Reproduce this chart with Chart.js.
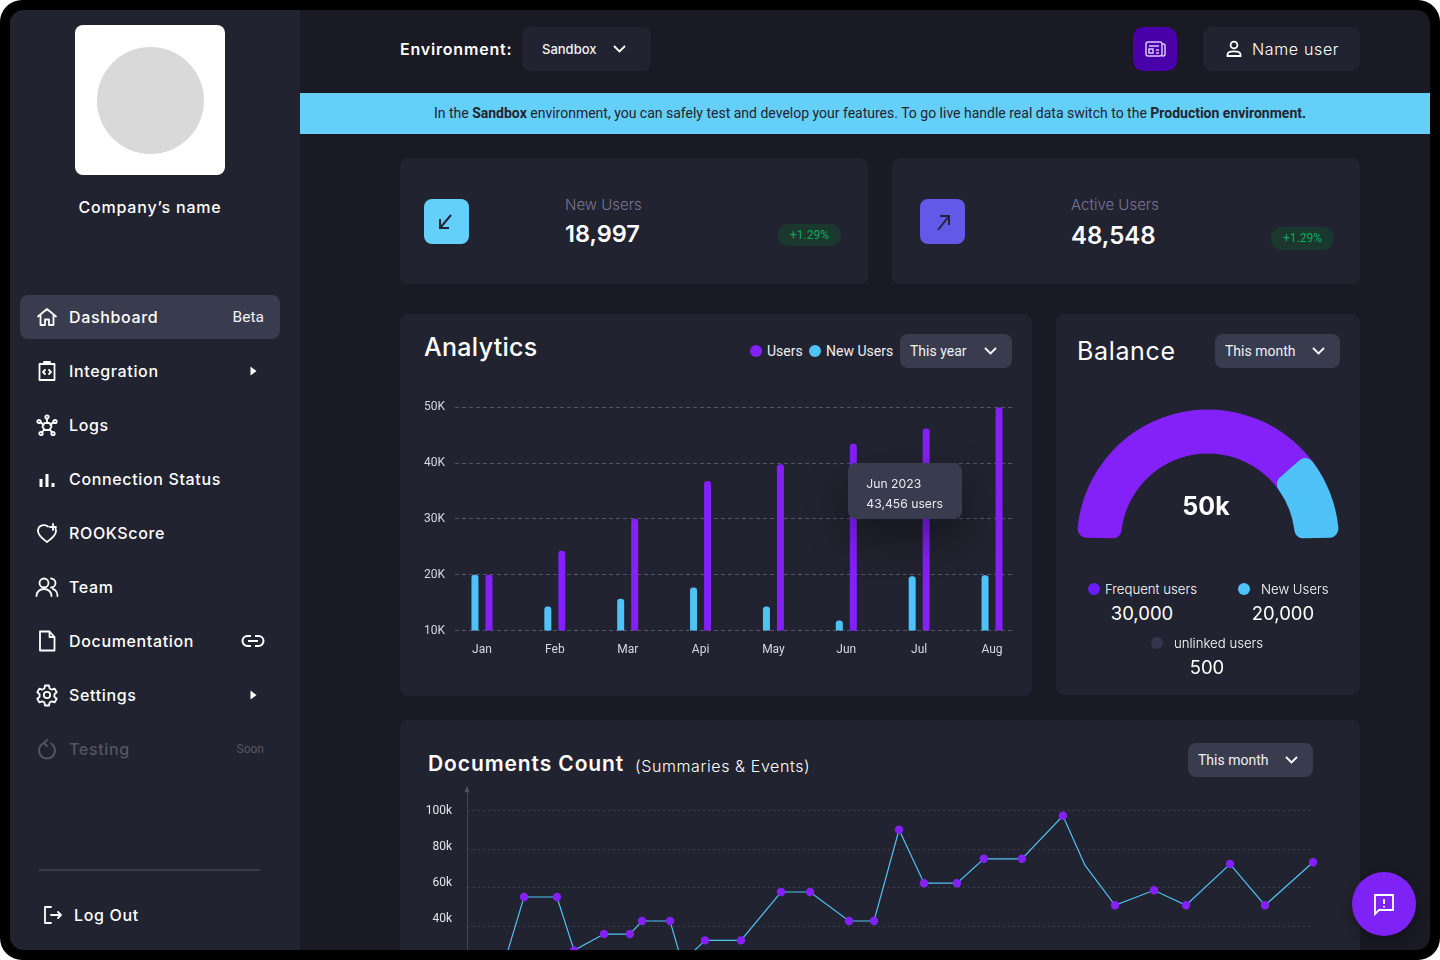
<!DOCTYPE html>
<html>
<head>
<meta charset="utf-8">
<title>Dashboard</title>
<script src="https://cdn.jsdelivr.net/npm/chart.js@4"></script>
<style>
  html, body { margin: 0; height: 100%; background: #fff; overflow: hidden; }
  #frame { position: absolute; left: 0; top: 0; width: 1440px; height: 960px; background: #000; border-radius: 22px; overflow: hidden; font-family: Inter, sans-serif; color: #fff; }
  #screen { position: absolute; left: 10px; top: 10px; width: 1420px; height: 940px; background: #191a24; border-radius: 14px; overflow: hidden; }
  #page { position: absolute; left: -10px; top: -10px; width: 1440px; height: 960px; }
  .a { position: absolute; }
  .t { position: absolute; transform: translateY(-50%); white-space: nowrap; line-height: 1.2; }
  .c { position: absolute; transform: translate(-50%, -50%); white-space: nowrap; line-height: 1.2; }
  .card { position: absolute; background: #222330; border-radius: 8px; }
  .mont { font-family: Inter, sans-serif; letter-spacing: .65px; margin-top: 1px; }
  .rob { font-family: Roboto, sans-serif; }
  .sel { position: absolute; background: #393b4e; border-radius: 8px; }
  .sel span { position: absolute; top: 50%; transform: translateY(-50%); font: 14px Roboto, sans-serif; white-space: nowrap; color: #f1f1f4; }
  .sel svg { position: absolute; top: 50%; margin-top: -4px; }
  .dot { position: absolute; border-radius: 50%; width: 12px; height: 12px; transform: translate(-50%, -50%); }
  .pill { position: absolute; background: #1a382e; border-radius: 11px; color: #0fa958; font: 12px Roboto, sans-serif; text-align: center; }
  .nav-ic { position: absolute; left: 35px; width: 24px; height: 24px; transform: translateY(-50%); fill: none; stroke: #fff; stroke-width: 1.8; stroke-linecap: round; stroke-linejoin: round; }
  canvas { position: absolute; display: block; }
  #tip { position: absolute; background: #393b4e; border-radius: 8px; width: 114px; height: 56px; box-shadow: 0 18px 40px rgba(0,0,0,.4); z-index: 3; display: none; font: 12.2px Inter, sans-serif; color: #e8e8ee; }
  #tip div { position: absolute; left: 18px; transform: translateY(-50%); white-space: nowrap; }
</style>
</head>
<body>
<div id="frame"><div id="screen"><div id="page">

  <!-- sidebar -->
  <div class="a" style="left:10px;top:10px;width:290px;height:940px;background:#222330"></div>
  <div class="a" style="left:75px;top:25px;width:150px;height:150px;background:#fff;border-radius:8px"></div>
  <div class="a" style="left:96.5px;top:46.5px;width:107px;height:107px;background:#d9d9d9;border-radius:50%"></div>
  <div class="c mont" style="left:150px;top:207px;font-size:16px;font-weight:500;letter-spacing:.8px">Company’s name</div>
  <div class="a" style="left:20px;top:295px;width:260px;height:44px;background:#393b4e;border-radius:8px"></div>
  <div id="nav"></div>
  <div class="a" style="left:39px;top:869px;width:221px;height:2px;background:#393b4e"></div>
  <svg class="nav-ic" style="left:40px;top:915px" viewBox="0 0 24 24"><path d="M11 4H5v16h6M11 12h10M18 9l3 3-3 3"/></svg>
  <div class="t mont" style="left:74px;top:915px;font-size:16px;font-weight:500">Log Out</div>

  <!-- top bar -->
  <div class="t mont" style="left:400px;top:49px;font-size:16px;font-weight:600;letter-spacing:.8px">Environment:</div>
  <div class="sel" style="left:522px;top:27px;width:129px;height:44px;background:#222330">
    <span style="left:20px;font:500 13px Inter,sans-serif">Sandbox</span>
    <svg style="left:91px" width="13" height="8" viewBox="0 0 13 8" fill="none" stroke="#fff" stroke-width="1.8"><path d="M1 1l5.5 5.5L12 1"/></svg>
  </div>
  <div class="a" style="left:1133px;top:27px;width:44px;height:44px;background:#4a00a8;border-radius:10px"></div>
  <svg class="a" style="left:1144px;top:39px" width="22" height="20" viewBox="0 0 22 20" fill="none" stroke="#d9c8ff" stroke-width="1.5"><rect x="2" y="3" width="16" height="14" rx="2"/><path d="M18 5h1.5a1.5 1.5 0 0 1 1.5 1.5V15a2 2 0 0 1-2 2h-1M5 7h10M5 10h4v4H5zM12 11h3M12 14h3"/></svg>
  <div class="sel" style="left:1203px;top:27px;width:157px;height:44px;background:#222330"></div>
  <svg class="a" style="left:1223px;top:38px" width="22" height="22" viewBox="0 0 22 22" fill="none" stroke="#fff" stroke-width="1.8"><circle cx="11" cy="7" r="3.4"/><path d="M4.5 18v-1.5c0-2 2-3.2 6.500-3.200s6.500 1.200 6.500 3.200V18z"/></svg>
  <div class="t mont" style="left:1252px;top:49px;font-size:16px;font-weight:300">Name user</div>

  <!-- banner -->
  <div class="a" style="left:300px;top:93px;width:1130px;height:41px;background:#64cff9"></div>
  <div class="c rob" style="left:870px;top:113px;font-size:14px;color:#23242f">In the <b>Sandbox</b> environment, you can safely test and develop your features. To go live handle real data switch to the <b>Production environment.</b></div>

  <!-- stat cards -->
  <div class="card" style="left:400px;top:158px;width:468px;height:126px"></div>
  <div class="card" style="left:892px;top:158px;width:468px;height:126px"></div>
  <div class="a" style="left:424px;top:199px;width:45px;height:45px;background:#64cff9;border-radius:8px"></div>
  <svg class="a" style="left:424px;top:199px" width="45" height="45" viewBox="0 0 45 45" fill="none" stroke="#23243a" stroke-width="2"><path d="M27 16L16 29M16 20v9h9"/></svg>
  <div class="a" style="left:920px;top:199px;width:45px;height:45px;background:#6359e9;border-radius:8px"></div>
  <svg class="a" style="left:920px;top:199px" width="45" height="45" viewBox="0 0 45 45" fill="none" stroke="#23243a" stroke-width="2"><path d="M18 31l11-14M20 17h9v9"/></svg>
  <div class="t" style="left:565px;top:205px;font-size:15px;font-weight:300;color:#7a7594">New Users</div>
  <div class="t" style="left:565px;top:234px;font-size:23.5px;font-weight:600">18,997</div>
  <div class="pill" style="left:778px;top:224px;width:63px;height:22px;line-height:22px">+1.29%</div>
  <div class="t" style="left:1071px;top:205px;font-size:15px;font-weight:300;color:#7a7594">Active Users</div>
  <div class="t" style="left:1071px;top:236px;font-size:24px;font-weight:600">48,548</div>
  <div class="pill" style="left:1271px;top:227px;width:63px;height:23px;line-height:23px">+1.29%</div>

  <!-- analytics -->
  <div class="card" style="left:400px;top:314px;width:632px;height:382px"></div>
  <div class="t mont" style="left:424px;top:346px;font-size:25px;font-weight:500;letter-spacing:.3px">Analytics</div>
  <div class="dot" style="left:756px;top:351px;background:#8420f8"></div>
  <div class="t rob" style="left:767px;top:351px;font-size:14px;color:#eee">Users</div>
  <div class="dot" style="left:815px;top:351px;background:#4fc3f7"></div>
  <div class="t rob" style="left:826px;top:351px;font-size:14px;color:#eee">New Users</div>
  <div class="sel" style="left:900px;top:334px;width:112px;height:34px"><span style="left:10px">This year</span>
    <svg style="left:84px" width="13" height="8" viewBox="0 0 13 8" fill="none" stroke="#fff" stroke-width="1.8"><path d="M1 1l5.500 5.500L12 1"/></svg></div>
  <canvas id="analyticsChart" width="632" height="270" style="left:400px;top:390px"></canvas>
  <div id="tip"><div id="tipTitle" style="top:20px"></div><div id="tipBody" style="top:40px"></div></div>

  <!-- balance -->
  <div class="card" style="left:1056px;top:314px;width:304px;height:381px"></div>
  <div class="t mont" style="left:1077px;top:350px;font-size:25px;font-weight:400">Balance</div>
  <div class="sel" style="left:1215px;top:334px;width:125px;height:34px"><span style="left:10px">This month</span>
    <svg style="left:97px" width="13" height="8" viewBox="0 0 13 8" fill="none" stroke="#fff" stroke-width="1.8"><path d="M1 1l5.500 5.500L12 1"/></svg></div>
  <canvas id="gaugeBack" width="284" height="146" style="left:1066px;top:401px"></canvas>
  <canvas id="gaugeFront" width="284" height="146" style="left:1066px;top:401px"></canvas>
  <div class="c" style="left:1206px;top:506px;font-size:25px;font-weight:700">50k</div>
  <div class="dot" style="left:1093.500px;top:589px;background:#6a1bff"></div>
  <div class="t" style="left:1105px;top:589.500px;font-size:13.2px;font-weight:300">Frequent users</div>
  <div class="c" style="left:1142px;top:612.500px;font-size:18.500px;font-weight:400">30,000</div>
  <div class="dot" style="left:1243.500px;top:589px;background:#4fc3f7"></div>
  <div class="t" style="left:1261px;top:589.500px;font-size:13.2px;font-weight:300">New Users</div>
  <div class="c" style="left:1283px;top:612.500px;font-size:18.500px;font-weight:400">20,000</div>
  <div class="dot" style="left:1157px;top:643px;background:#34374c"></div>
  <div class="t" style="left:1174px;top:644px;font-size:13.2px;font-weight:300">unlinked users</div>
  <div class="c" style="left:1207px;top:667px;font-size:18.500px;font-weight:400">500</div>

  <!-- documents -->
  <div class="card" style="left:400px;top:720px;width:960px;height:260px"></div>
  <div class="t mont" style="left:428px;top:763px;font-size:21px;font-weight:600;letter-spacing:.9px">Documents Count</div>
  <div class="t" style="left:635px;top:767px;font-size:16px;font-weight:300;letter-spacing:.6px">(Summaries &amp; Events)</div>
  <div class="sel" style="left:1188px;top:743px;width:125px;height:34px"><span style="left:10px">This month</span>
    <svg style="left:97px" width="13" height="8" viewBox="0 0 13 8" fill="none" stroke="#fff" stroke-width="1.8"><path d="M1 1l5.500 5.500L12 1"/></svg></div>
  <canvas id="docsChart" width="960" height="244" style="left:400px;top:773px"></canvas>

  <!-- chat -->
  <div class="a" style="left:1352px;top:872px;width:64px;height:64px;border-radius:50%;background:#7e22f5;box-shadow:0 6px 14px rgba(0,0,0,.3)"></div>
  <svg class="a" style="left:1372px;top:892px" width="24" height="24" viewBox="0 0 24 24" fill="none" stroke="#fff" stroke-width="1.8"><path d="M3 3h18v15H7l-4 4zM12 7v5M12 14v1.500"/></svg>

</div></div></div>

<script>
/* ---------- Data ---------- */
const months = ["Jan", "Feb", "Mar", "Api", "May", "Jun", "Jul", "Aug"];
const users = [20000, 24300, 30000, 36800, 39800, 43456, 46200, 50000];
const newUsers = [20000, 14300, 15700, 17700, 14300, 11800, 19700, 19900];
const analyticsTicks = [10000, 20000, 30000, 40000, 50000];

// arc shares as drawn in the gauge, purple then blue
const balanceShares = [77.5, 22.5];

// day of the period for each point, counts in thousands
const docDays = [0, 14.2, 24.6, 38.8, 46.2, 59.1, 70.3, 75.5, 87.6, 92.8, 102.7, 118.2, 135.5, 148, 164.8, 175.6, 186.4, 197.2, 211.4, 223, 239.4, 257.1, 266.6, 279.6, 296.4, 310.2, 329.2, 344.3, 365];
const docCounts = [8, 13.4, 55.1, 55.1, 27.3, 35.8, 35.8, 42.6, 42.6, 21, 32.5, 32.5, 57.7, 57.7, 42.6, 42.6, 90.1, 62.3, 62.3, 75, 75, 97.4, 71.7, 50.8, 58.6, 50.8, 72.3, 50.8, 73.2];
const docTicks = [0, 20, 40, 60, 80, 100];

/* ---------- Sidebar ---------- */
const navItems = [
  ["Dashboard", 317, '<path d="M3 11.500L12 4l9 7.500M5.500 10v10H10v-5.500h4V20h4.500V10"/>', "beta"],
  ["Integration", 371, '<path d="M4.500 5h15v16h-15zM9 5V3h6v2M10 11l-2 2 2 2M14 11l2 2-2 2"/>', "arrow"],
  ["Logs", 425, '<path d="M9.500 10l5-0 2 3.500-2 3.500h-5l-2-3.500zM12 5.500V10M5.500 9l3 3M18.500 9l-3 3M7 19.500l2-3M17 19.500l-2-3"/><circle cx="12" cy="4" r="1.700"/><circle cx="4" cy="8.500" r="1.700"/><circle cx="20" cy="8.500" r="1.700"/><circle cx="6" cy="20.500" r="1.700"/><circle cx="18" cy="20.500" r="1.700"/>', ""],
  ["Connection Status", 479, '<path stroke-width="3" stroke-linecap="butt" d="M6 20v-8M12 20V7M18 20v-4"/>', ""],
  ["ROOKScore", 533, '<path d="M13 5.500C10 3 3 3.500 3 10c0 5 6 8.500 9 11 3-2.500 9-6 9-11 0-1-.2-1.800-.5-2.500M18 3v6M15 6h6"/>', ""],
  ["Team", 587, '<circle cx="9" cy="8" r="4.500"/><path d="M1.500 21c0-4 3-7 7.500-7s7.500 3 7.500 7M16 3.500a4.500 4.500 0 0 1 0 9M18 14c2.500.5 4.500 3.500 4.500 7"/>', ""],
  ["Documentation", 641, '<path d="M5 2.500h9.500l5 5.500v13.500H5zM14.500 2.500V8h5"/>', "link"],
  ["Settings", 695, '<circle cx="12" cy="12" r="3.200"/><path d="M10 2.500h4l.6 3 2.200 1.200 2.900-1 2 3.500-2.300 2v2.600l2.300 2-2 3.500-2.900-1-2.200 1.200-.6 3h-4l-.6-3-2.200-1.200-2.900 1-2-3.500 2.300-2v-2.600l-2.300-2 2-3.500 2.900 1L9.400 5.500z"/>', "arrow"],
  ["Testing", 749, '<path d="M8 6.500a8 8 0 1 0 8 0M12 3L9 6l3 3"/>', "soon"]
];

const navEl = document.getElementById("nav");
navItems.forEach(([label, y, icon, extra]) => {
  const dim = extra === "soon";
  let html = `<svg class="nav-ic" style="top:${y}px;${dim ? "stroke:#55565f;" : ""}" viewBox="0 0 24 24">${icon}</svg>`;
  html += `<div class="t mont" style="left:69px;top:${y}px;font-size:16px;font-weight:500;${dim ? "color:#55565f" : ""}">${label}</div>`;
  if (extra === "beta") html += `<div class="t rob" style="right:1176px;top:${y}px;font-size:15.500px;color:#f1f1f4">Beta</div>`;
  if (extra === "soon") html += `<div class="t rob" style="right:1176px;top:${y}px;font-size:12px;color:#55565f">Soon</div>`;
  if (extra === "arrow") html += `<svg class="a" style="left:249px;top:${y - 6}px" width="9" height="12" viewBox="0 0 9 12" fill="#fff"><path d="M1.500 1.500l6 4.500-6 4.500z"/></svg>`;
  if (extra === "link") html += `<svg class="a" style="left:241px;top:${y - 8}px" width="24" height="16" viewBox="0 0 24 16" fill="none" stroke="#fff" stroke-width="2"><path d="M10 3H6.500a5 5 0 0 0 0 10H10M14 3h3.500a5 5 0 0 1 0 10H14M7 8h10"/></svg>`;
  navEl.insertAdjacentHTML("beforeend", html);
});

/* ---------- Analytics bars ---------- */
function showTip({ chart, tooltip }) {
  const tip = document.getElementById("tip");
  const point = tooltip.dataPoints[0];
  tip.style.display = "block";
  tip.style.left = 400 + point.element.x - 5 + "px";
  tip.style.top = 390 + chart.scales.y.getPixelForValue(40000) + "px";
  document.getElementById("tipTitle").textContent = tooltip.title[0];
  document.getElementById("tipBody").textContent = tooltip.body[0].lines[0];
}

const analyticsChart = new Chart(document.getElementById("analyticsChart"), {
  type: "bar",
  data: {
    datasets: [
      { label: "New Users", data: newUsers.map((v, i) => ({ x: i, y: v })), backgroundColor: "#4fc3f7" },
      { label: "Users", data: users.map((v, i) => ({ x: i, y: v })), backgroundColor: "#8420f8" }
    ]
  },
  options: {
    responsive: false,
    animation: false,
    events: [],
    layout: { padding: { top: 16, right: 20 } },
    datasets: { bar: { categoryPercentage: 0.384, barPercentage: 0.5, borderRadius: { topLeft: 3, topRight: 3 }, borderSkipped: false } },
    scales: {
      x: {
        type: "linear", offset: false, min: -0.37, max: 7.274,
        grid: { display: false }, border: { display: false },
        afterBuildTicks: a => { a.ticks = months.map((_, i) => ({ value: i })); },
        afterFit: a => { a.height = 29.5; },
        ticks: { autoSkip: false, maxRotation: 0, padding: 4, color: "#d8d8e0", font: { family: "Roboto", size: 12 }, callback: v => months[v] }
      },
      y: {
        min: 10000, max: 50000,
        border: { display: false, dash: [4, 3] },
        grid: { color: "#55516e", drawTicks: false },
        afterBuildTicks: a => { a.ticks = analyticsTicks.map(v => ({ value: v })); },
        afterFit: a => { a.width = 55; },
        ticks: { padding: 10, color: "#d8d8e0", font: { family: "Roboto", size: 12 }, callback: v => v / 1000 + "K" }
      }
    },
    plugins: {
      legend: { display: false },
      tooltip: {
        enabled: false,
        external: showTip,
        callbacks: {
          title: items => months[items[0].parsed.x] + " 2023",
          label: item => item.parsed.y.toLocaleString("en-US") + " users"
        }
      }
    }
  }
});
analyticsChart.tooltip.setActiveElements([{ datasetIndex: 1, index: 5 }], { x: 0, y: 0 });
analyticsChart.update();

/* ---------- Balance gauge ---------- */
const gaugeOptions = {
  responsive: false,
  animation: false,
  events: [],
  rotation: -88.7,
  circumference: 177.4,
  radius: 131,
  cutout: "66.4%",
  plugins: { legend: { display: false }, tooltip: { enabled: false } }
};

// the purple arc runs on under the blue one so its rounded corners sit on purple
new Chart(document.getElementById("gaugeBack"), {
  type: "doughnut",
  data: { datasets: [{
    data: [balanceShares[0] + 8, balanceShares[1] - 8],
    backgroundColor: ["#8420f8", "transparent"],
    borderWidth: 0,
    borderRadius: [{ outerStart: 9, innerStart: 9, outerEnd: 0, innerEnd: 0 }, 0]
  }] },
  options: gaugeOptions
});
new Chart(document.getElementById("gaugeFront"), {
  type: "doughnut",
  data: { datasets: [{
    data: balanceShares,
    backgroundColor: ["transparent", "#4fc3f7"],
    borderWidth: 0,
    borderRadius: [0, 9]
  }] },
  options: gaugeOptions
});

/* ---------- Documents line ---------- */
const axisArrow = {
  id: "axisArrow",
  afterDraw(chart) {
    const { ctx, chartArea } = chart;
    ctx.save();
    ctx.fillStyle = "#55565f";
    ctx.beginPath();
    ctx.moveTo(chartArea.left, chartArea.top - 1);
    ctx.lineTo(chartArea.left - 2.5, chartArea.top + 5);
    ctx.lineTo(chartArea.left + 2.5, chartArea.top + 5);
    ctx.fill();
    ctx.restore();
  }
};

new Chart(document.getElementById("docsChart"), {
  type: "line",
  data: { datasets: [{
    data: docDays.map((d, i) => ({ x: d, y: docCounts[i] })),
    borderColor: "#4fc3f7",
    borderWidth: 1.2,
    tension: 0,
    clip: 8,
    pointBackgroundColor: "#8420f8",
    pointBorderWidth: 0,
    // the drop after the peak has no marker in the picture
    pointRadius: ctx => (ctx.dataIndex === 22 ? 0 : 4.2)
  }] },
  plugins: [axisArrow],
  options: {
    responsive: false,
    animation: false,
    events: [],
    layout: { padding: { top: 0, right: 47 } },
    scales: {
      x: { type: "linear", min: 0, max: 365, display: false },
      // grid and axis line only
      y: {
        min: 0, max: 112.3,
        border: { color: "#44454f", dash: [2, 3] },
        grid: { color: "#3d3e4a", drawTicks: false },
        afterBuildTicks: a => { a.ticks = docTicks.map(v => ({ value: v })); },
        afterFit: a => { a.width = 0; },
        ticks: { display: false }
      },
      // the labels sit closer together than the grid lines in the picture
      yLabels: {
        position: "left",
        min: -6.4, max: 112.9,
        border: { display: false },
        grid: { display: false },
        afterBuildTicks: a => { a.ticks = docTicks.filter(v => v >= 40).map(v => ({ value: v })); },
        afterFit: a => { a.width = 67; },
        ticks: { padding: 7, color: "#e4e4ea", font: { family: "Roboto", size: 12 }, callback: v => v + "k" }
      }
    },
    plugins: { legend: { display: false }, tooltip: { enabled: false } }
  }
});
</script>
</body>
</html>
